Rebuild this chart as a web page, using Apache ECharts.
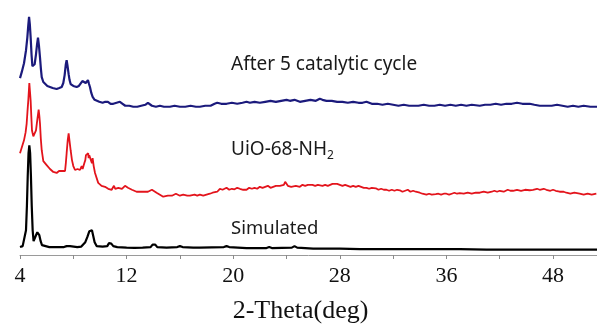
<!DOCTYPE html>
<html>
<head>
<meta charset="utf-8">
<script src="https://cdn.jsdelivr.net/npm/echarts@6/dist/echarts.min.js"></script>
<style>
	html, body { margin: 0; padding: 0; background: #fff; }
	#container { width: 597px; height: 329px; }
</style>
</head>
<body>
<div id="container"></div>
<script>
// 2-theta ticks, labels as printed on the original axis
var tickValues = [ 4, 12, 20, 28, 36, 44 ];
var tickLabels = [ '4', '12', '20', '28', '36', '48' ];

var seriesNames = [ 'After 5 catalytic cycle', 'UiO-68-NH2', 'Simulated' ];

// [2-theta, intensity (a.u., stacked offsets)]
var afterCycle = [
	[4.0,179],[4.13,185],[4.3,194],[4.45,207],[4.55,220],[4.62,232],[4.68,241],[4.74,233],[4.8,220],
	[4.87,202],[4.93,191],[5.02,189],[5.1,193],[5.2,203],[5.28,213],[5.35,220],[5.42,212],[5.5,200],
	[5.57,188],[5.63,180],[5.75,175],[5.88,173],[6.05,171],[6.25,170],[6.45,169],[6.6,169],[6.75,168],
	[6.95,169],[7.13,170],[7.25,174],[7.35,182],[7.44,193],[7.5,197],[7.56,192],[7.65,183],[7.72,177],
	[7.8,173],[8.0,171],[8.25,170],[8.42,171],[8.55,173],[8.68,176],[8.75,178],[8.83,176],[8.93,174],
	[9.02,176],[9.1,177],[9.18,173],[9.25,170],[9.35,164],[9.45,160],[9.6,157],[9.75,156],[9.95,155],
	[10.2,154],[10.4,155],[10.6,155],[10.8,153],[11.0,153],[11.25,154],[11.5,155],[11.7,153],[11.9,151],
	[12.2,151],[12.5,150],[12.8,150],[13.1,151],[13.4,152],[13.6,154],[13.75,152],[13.9,151],[14.2,150],
	[14.5,151],[14.8,150],[15.25,150],[15.6,151],[16.0,150],[16.4,150],[16.8,151],[17.2,150],[17.5,150],
	[17.9,151],[18.3,151],[18.6,153],[18.8,154],[19.1,153],[19.5,153],[19.9,154],[20.3,153],[20.7,154],
	[21.0,155],[21.25,154],[21.6,155],[22.0,154],[22.4,155],[22.8,156],[23.2,155],[23.6,156],[24.0,157],
	[24.25,156],[24.6,157],[25.0,155],[25.4,156],[25.8,157],[26.2,156],[26.5,158],[26.7,157],[27.0,156],
	[27.4,156],[27.8,155],[28.2,155],[28.6,154],[29.0,155],[29.4,154],[29.7,154],[30.0,155],[30.4,153],
	[30.8,153],[31.2,152],[31.6,153],[32.0,152],[32.4,151],[32.8,152],[33.2,151],[33.5,151],[33.9,151],
	[34.3,152],[34.7,151],[35.1,151],[35.5,152],[35.9,151],[36.3,152],[36.7,151],[37.1,152],[37.5,151],
	[37.9,152],[38.5,151],[38.9,152],[39.3,152],[39.7,153],[40.1,152],[40.5,153],[40.9,153],[41.3,154],
	[41.7,153],[42.25,153],[42.6,152],[43.0,151],[43.5,151],[43.9,151],[44.3,152],[44.7,151],[45.1,150],
	[45.5,151],[45.9,150],[46.3,151],[46.8,150],[47.3,150]
];

var uioPattern = [
	[4.0,103],[4.13,105],[4.3,116],[4.42,124],[4.5,133],[4.56,145],[4.62,156],[4.7,174],[4.75,165],
	[4.8,156],[4.85,140],[4.9,126],[5.0,120],[5.1,122],[5.2,126],[5.3,137],[5.4,147],[5.45,141],
	[5.5,133],[5.56,118],[5.63,106],[5.75,95],[5.88,93],[6.0,91],[6.12,90],[6.25,87],[6.38,86],
	[6.5,84],[6.62,85],[6.75,83],[6.87,83],[6.93,85],[7.0,86],[7.12,85],[7.25,86],[7.38,85],
	[7.44,93],[7.5,103],[7.58,116],[7.65,123],[7.72,115],[7.8,106],[7.9,96],[8.0,90],[8.07,88],
	[8.13,86],[8.25,85],[8.32,87],[8.38,85],[8.5,86],[8.63,90],[8.7,87],[8.75,88],[8.83,93],
	[8.9,96],[8.95,101],[9.0,99],[9.05,103],[9.12,103],[9.15,98],[9.2,101],[9.25,100],[9.32,96],
	[9.4,93],[9.45,98],[9.53,90],[9.63,83],[9.75,81],[9.87,73],[10.0,71],[10.12,70],[10.25,68],
	[10.38,69],[10.5,68],[10.62,67],[10.75,68],[10.88,66],[11.05,70],[11.15,67],[11.25,66],[11.38,68],
	[11.5,68],[11.65,67],[11.8,69],[11.88,70],[12.0,69],[12.1,68],[12.25,66],[12.4,66],[12.55,65],
	[12.75,64],[12.9,65],[13.05,64],[13.25,64],[13.4,65],[13.6,64],[13.75,64.5],[13.9,66],[14.05,65],
	[14.25,63],[14.4,62],[14.5,61],[14.62,60],[14.75,59],[14.9,61],[15.1,60],[15.25,61],[15.4,60],
	[15.5,61],[15.7,62],[15.85,61],[16.0,60],[16.25,61],[16.4,62],[16.55,60],[16.75,60],[16.9,61],
	[17.1,61],[17.3,60],[17.5,61],[17.75,60],[18.0,61],[18.25,62],[18.45,63],[18.6,65],[18.8,64],
	[19.0,67],[19.2,66],[19.35,68],[19.5,68],[19.7,66],[19.9,67],[20.1,66.5],[20.3,68],[20.5,67],
	[20.75,66],[21.0,66],[21.2,68],[21.4,67],[21.6,68],[21.8,67],[22.0,69],[22.2,68],[22.4,69],
	[22.6,70],[22.8,68],[23.0,69],[23.2,70],[23.5,70],[23.65,69],[23.8,71],[23.9,74],[24.0,73],
	[24.1,70],[24.2,70],[24.35,69],[24.5,68],[24.7,70],[24.85,69],[25.0,69],[25.2,71],[25.4,70],
	[25.6,71],[25.75,70],[25.95,71],[26.15,70],[26.35,71],[26.5,69],[26.7,70],[26.9,71],[27.1,70],
	[27.25,70.5],[27.45,72],[27.6,71],[27.8,72],[28.0,71],[28.2,70],[28.4,71],[28.6,70],[28.8,69],
	[29.0,70],[29.2,69],[29.4,70],[29.6,69],[29.8,68],[30.0,68],[30.2,67],[30.4,68],[30.7,67.5],
	[30.9,66],[31.1,67],[31.3,66],[31.5,66],[31.7,65],[31.9,66],[32.1,65],[32.3,66],[32.5,65.5],
	[32.7,64],[32.9,65],[33.1,66],[33.3,64],[33.5,65],[33.7,64],[33.85,63],[34.0,63],[34.2,62],
	[34.35,61],[34.5,61],[34.7,62],[34.9,61],[35.2,61.5],[35.4,62],[35.6,61],[35.8,62],[36.0,62],
	[36.2,61],[36.4,62],[36.6,63],[36.8,62],[37.0,62.5],[37.3,62],[37.6,63],[37.9,62],[38.2,63],
	[38.5,63],[38.8,64],[39.1,63],[39.4,64],[39.6,65],[39.8,64],[40.0,65],[40.3,64],[40.6,66],
	[40.8,65],[41.0,65],[41.3,66],[41.6,65],[41.9,66],[42.25,65.5],[42.5,66],[42.8,67],[43.0,66],
	[43.3,67],[43.5,66],[43.8,65],[44.0,66],[44.2,65],[44.5,64],[44.8,64],[45.0,63],[45.3,62],
	[45.6,63],[46.0,62],[46.3,61],[46.6,62],[46.9,61],[47.25,62]
];

var simulated = [
	[4.0,8],[4.2,9],[4.35,11],[4.45,25],[4.52,50],[4.58,80],[4.64,103],[4.7,111],[4.76,103],
	[4.82,80],[4.88,50],[4.95,25],[5.02,14],[5.1,16],[5.2,20],[5.3,23],[5.37,23.5],[5.45,20],
	[5.55,14],[5.65,10],[5.8,8.5],[6.2,8],[6.8,8],[7.3,8],[7.5,9],[7.62,10.5],[7.75,9],[7.9,8],
	[8.3,8],[8.6,8.5],[8.75,10],[8.9,13],[9.05,18],[9.2,24],[9.3,26],[9.4,25],[9.5,19],[9.6,13],
	[9.75,9],[10.2,8.5],[10.55,9],[10.68,12],[10.75,13],[10.85,11.5],[11.0,9],[11.3,8],[12.0,7.5],
	[12.6,7.3],[13.2,7.5],[13.8,8],[13.95,10.5],[14.05,11.3],[14.15,10.5],[14.3,8],[15.0,7.5],
	[15.8,8],[16.0,9],[16.2,8],[17.0,7.5],[17.5,7.5],[19.3,8],[19.5,9],[19.7,8],[21.0,7],
	[22.5,7],[22.7,8],[22.9,7],[24.4,7.5],[24.6,9],[24.8,7.5],[26.0,6.5],[28.0,6.5],[29.5,6],
	[31.0,6],[33.0,6],[35.0,6],[37.0,6],[39.0,5.5],[41.0,5.5],[43.0,5.5],[45.0,5.5],[47.3,5.5]
];

var lineColors = [ '#1b1a7c', '#e3141c', '#000000' ];

var dom = document.getElementById( 'container' );
var myChart = echarts.init( dom, null, { renderer: 'canvas' } );

function tickText( v ) {
	for ( var i = 0; i < tickValues.length; i++ ) {
		if ( Math.abs( v - tickValues[i] ) < 1e-6 ) return tickLabels[i];
	}
	return '';
}

var option = {
	backgroundColor: '#ffffff',
	animation: false,
	grid: { left: 20, right: 0, top: 0, bottom: 71 },
	xAxis: {
		type: 'value',
		min: 4,
		max: 47.3,
		interval: 4,
		name: '2-Theta(deg)',
		nameLocation: 'middle',
		nameGap: 43,
		nameTextStyle: {
			fontFamily: 'Liberation Serif',
			fontSize: 26,
			color: '#111',
			padding: [ 0, 16, 0, 0 ]
		},
		axisLine: { show: true, lineStyle: { color: '#9a9a9a', width: 1 } },
		axisTick: { show: true, length: 4, lineStyle: { color: '#8a8a8a' } },
		axisLabel: {
			showMaxLabel: false,
			margin: 10,
			fontFamily: 'Liberation Serif',
			fontSize: 22,
			color: '#111',
			formatter: tickText
		},
		splitLine: { show: false }
	},
	yAxis: {
		type: 'value',
		min: 0,
		max: 258,
		show: false
	},
	graphic: [
		{
			type: 'text', x: 231, y: 65,
			style: { text: seriesNames[0], fontFamily: 'Noto Sans', fontSize: 19, fill: '#1a1a1a', verticalAlign: 'middle' }
		}, {
			type: 'text', x: 231, y: 150,
			style: {
				text: '{a|UiO-68-NH}{b|2}',
				verticalAlign: 'middle',
				rich: {
					a: { fontFamily: 'Noto Sans', fontSize: 19, fill: '#1a1a1a', lineHeight: 24 },
					b: { fontFamily: 'Noto Sans', fontSize: 12, fill: '#1a1a1a', lineHeight: 13, verticalAlign: 'bottom' }
				}
			}
		}, {
			type: 'text', x: 231, y: 229,
			style: { text: seriesNames[2], fontFamily: 'Noto Sans', fontSize: 18.5, fill: '#1a1a1a', verticalAlign: 'middle' }
		}
	],
	series: [
		{
			name: seriesNames[0],
			type: 'line',
			data: afterCycle,
			symbol: 'none',
			lineStyle: { color: lineColors[0], width: 2.2 }
		}, {
			name: seriesNames[1],
			type: 'line',
			data: uioPattern,
			symbol: 'none',
			lineStyle: { color: lineColors[1], width: 1.8 }
		}, {
			name: seriesNames[2],
			type: 'line',
			data: simulated,
			symbol: 'none',
			lineStyle: { color: lineColors[2], width: 2.2 }
		}
	]
};

if ( option && typeof option === "object" ) {
	myChart.setOption( option, true );
}
</script>
</body>
</html>
